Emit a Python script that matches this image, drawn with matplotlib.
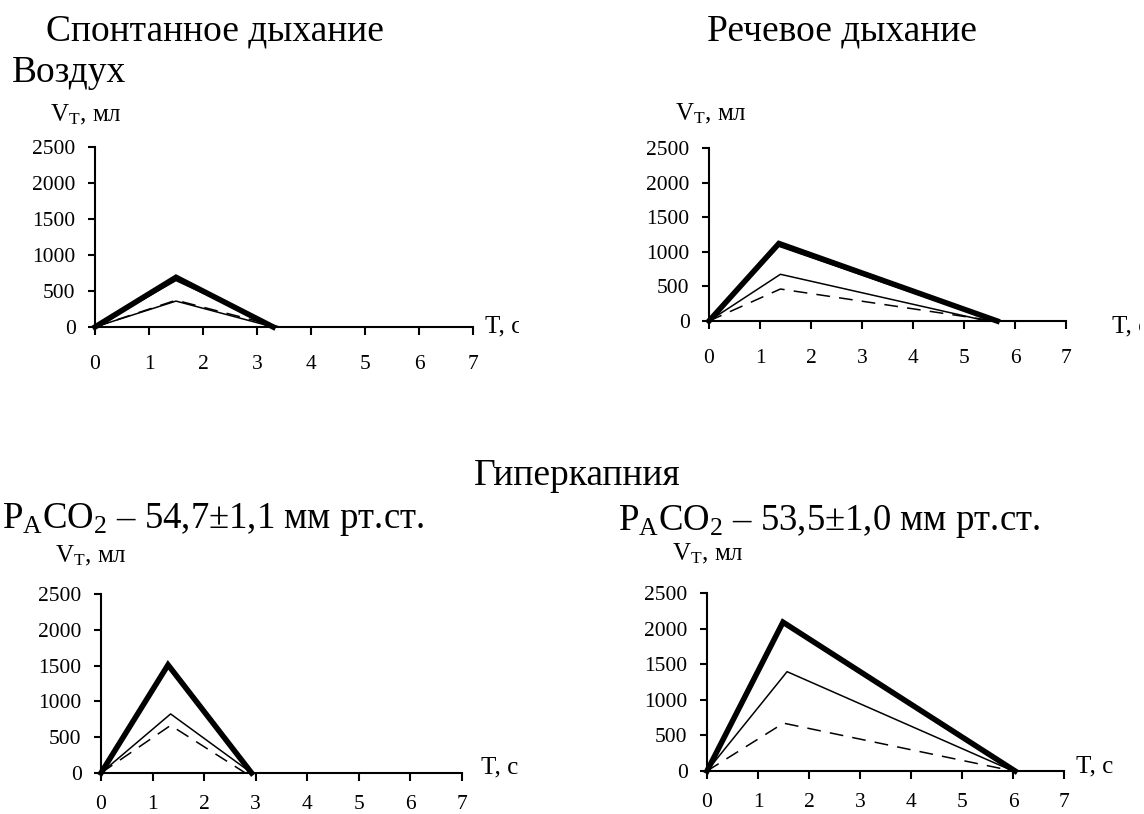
import matplotlib
matplotlib.use('Agg')
import matplotlib.pyplot as plt
from matplotlib.patches import Rectangle

plt.rcParams['font.family'] = 'Liberation Serif'
plt.rcParams['mathtext.fontset'] = 'custom'
plt.rcParams['mathtext.rm'] = 'Liberation Serif'
plt.rcParams['mathtext.it'] = 'Liberation Serif:italic'

# --- data: tidal volume (ml) vs time (s) ---
x_ticks = [0, 1, 2, 3, 4, 5, 6, 7]
y_ticks = [0, 500, 1000, 1500, 2000, 2500]

# spontaneous breathing, air
spont_air_t = [[0, 1.5, 3.3], [0, 1.5, 3.35], [0, 1.5, 3.3], [0, 1.5, 3.42]]
spont_air_v = [[0, 690, 0], [0, 645, 0], [0, 360, 0], [0, 372, 0]]
spont_air_kind = ['thick', 'thin', 'thin', 'dash']

# speech breathing, air
speech_air_t = [[0, 1.37, 5.65], [0, 1.37, 5.6], [0, 1.4, 5.45], [0, 1.4, 5.6]]
speech_air_v = [[0, 1120, 0], [0, 1080, 0], [0, 675, 0], [0, 462, 0]]
speech_air_kind = ['thick', 'thin', 'thin', 'dash']

# spontaneous breathing, hypercapnia
spont_hyp_t = [[0, 1.3, 2.92], [0, 1.35, 2.92], [0, 1.35, 2.8]]
spont_hyp_v = [[0, 1510, 0], [0, 825, 0], [0, 665, 0]]
spont_hyp_kind = ['thick', 'thin', 'dash']

# speech breathing, hypercapnia
speech_hyp_t = [[0, 1.49, 6.04], [0, 1.57, 6.0], [0, 1.5, 6.0]]
speech_hyp_v = [[0, 2090, 0], [0, 1395, 0], [0, 672, 0]]
speech_hyp_kind = ['thick', 'thin', 'dash']

W, H = 1144, 814
fig = plt.figure(figsize=(W / 100, H / 100), dpi=100)

styles = {
    'thick': dict(color='black', lw=4.0, ls='-', solid_joinstyle='miter'),
    'thin': dict(color='black', lw=1.1, ls='-'),
    'dash': dict(color='black', lw=1.1, ls=(0, (9, 6))),
}


def px_axes(x0, x1, y_top, y_bottom):
    return fig.add_axes([x0 / W, 1 - y_bottom / H, (x1 - x0) / W, (y_bottom - y_top) / H])


def fig_text(x, y, s, size, clip_x=None):
    t = fig.text(x / W, 1 - y / H, s, fontsize=size, va='baseline', ha='left')
    if clip_x is not None:
        t.set_clip_path(Rectangle((0, 0), clip_x / W, 1, transform=fig.transFigure))
    return t


def draw_panel(ax, ts, vs, kinds, xpad):
    for t, v, k in zip(ts, vs, kinds):
        ax.plot(t, v, clip_on=False, **styles[k])
    ax.set_xlim(0, 7)
    ax.set_ylim(0, 2500)
    ax.set_xticks(x_ticks)
    ax.set_yticks(y_ticks)
    ax.spines['top'].set_visible(False)
    ax.spines['right'].set_visible(False)
    for s in ('left', 'bottom'):
        ax.spines[s].set_linewidth(1.5)
    ax.tick_params(axis='y', direction='out', length=5, width=1.5, pad=9, labelsize=15.5)
    ax.tick_params(axis='x', direction='out', length=6, width=1.5, pad=xpad, labelsize=15.5)
    ax.patch.set_alpha(0)


ax1 = px_axes(95, 473, 147, 327)
draw_panel(ax1, spont_air_t, spont_air_v, spont_air_kind, 14)
ax2 = px_axes(709, 1066, 148, 321)
draw_panel(ax2, speech_air_t, speech_air_v, speech_air_kind, 14)
ax3 = px_axes(101, 462, 594, 773)
draw_panel(ax3, spont_hyp_t, spont_hyp_v, spont_hyp_kind, 10)
ax4 = px_axes(707, 1064, 593, 771)
draw_panel(ax4, speech_hyp_t, speech_hyp_v, speech_hyp_kind, 10)

# headings
fig_text(46, 40, 'Спонтанное дыхание', 27)
fig_text(707, 40, 'Речевое дыхание', 27)
fig_text(12, 82, 'Воздух', 27)
fig_text(474, 485, 'Гиперкапния', 27)
fig_text(2, 528, r'P$_{\mathrm{A}}$CO$_{\mathrm{2}}$ – 54,7±1,1 мм рт.ст.', 26.5)
fig_text(618, 530, r'P$_{\mathrm{A}}$CO$_{\mathrm{2}}$ – 53,5±1,0 мм рт.ст.', 26.5)

# axis captions
vt = r'V$_{\mathrm{T}}$, мл'
fig_text(50, 121, vt, 18)
fig_text(675, 120, vt, 18)
fig_text(55, 562, vt, 18)
fig_text(672, 560, vt, 18)

fig_text(485, 332, 'T, с', 18, clip_x=519)
fig_text(1112, 332, 'T, с', 18, clip_x=1140)
fig_text(481, 773, 'T, с', 18)
fig_text(1076, 772, 'T, с', 18)

fig.savefig('out.png', dpi=100, facecolor='white')
